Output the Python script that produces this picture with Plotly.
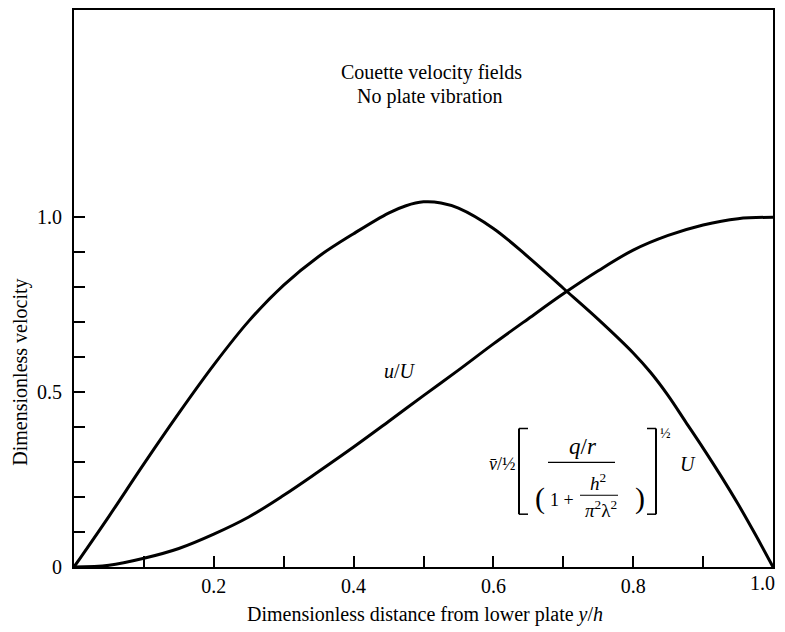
import plotly.graph_objects as go

# ---- data ----
x_v = [0, 0.05, 0.10, 0.15, 0.20, 0.25, 0.30, 0.35, 0.40, 0.45, 0.475, 0.50, 0.525,
       0.55, 0.60, 0.65, 0.70, 0.75, 0.80, 0.825, 0.85, 0.875, 0.90, 0.925, 0.95, 0.975, 1.0]
v_bar = [0, 0.145, 0.295, 0.44, 0.578, 0.703, 0.806, 0.888, 0.953, 1.012, 1.033, 1.044, 1.041,
         1.026, 0.968, 0.886, 0.797, 0.708, 0.612, 0.556, 0.49, 0.415, 0.34, 0.262, 0.18, 0.092, 0]

x_u = [0, 0.05, 0.10, 0.15, 0.20, 0.25, 0.30, 0.35, 0.40, 0.45, 0.50,
       0.55, 0.60, 0.65, 0.70, 0.75, 0.80, 0.85, 0.90, 0.95, 1.0]
u_U = [0, 0.005, 0.025, 0.053, 0.094, 0.143, 0.205, 0.273, 0.343, 0.416, 0.49,
       0.563, 0.638, 0.71, 0.781, 0.847, 0.906, 0.948, 0.978, 0.996, 1.0]

x_tickvals = [0.1, 0.2, 0.3, 0.4, 0.5, 0.6, 0.7, 0.8, 0.9, 1.0]
x_ticktext = ["", "0.2", "", "0.4", "", "0.6", "", "0.8", "", ""]
x_last_label = "1.0"   # drawn as an annotation so it is not clipped at the page edge
y_tickvals = [0, 0.1, 0.2, 0.3, 0.4, 0.5, 0.6, 0.7, 0.8, 0.9, 1.0]
y_ticktext = ["0", "", "", "", "", "0.5", "", "", "", "", "1.0"]

FONT = "Liberation Serif, Times New Roman, Times, serif"

# The page body has an 8px default margin, so the figure is drawn 8px smaller
# and all reference pixel positions are shifted by OFF.
OFF = 8
W, H = 785 - OFF, 632 - OFF
L, R, T, B = 66, 12, 0, 65
PW = W - L - R
PH = H - T - B
Y_TOP = PH / 351.0


def px(xp):
    return (xp - OFF - L) / PW


def py(yp):
    return (H - B - (yp - OFF)) / PH


fig = go.Figure()
fig.add_trace(go.Scatter(x=x_v, y=v_bar, mode="lines",
                         line=dict(color="black", width=3, shape="spline", smoothing=1.0),
                         hoverinfo="skip", showlegend=False, cliponaxis=False))
fig.add_trace(go.Scatter(x=x_u, y=u_U, mode="lines",
                         line=dict(color="black", width=3, shape="spline", smoothing=1.0),
                         hoverinfo="skip", showlegend=False, cliponaxis=False))

ann = []


def add_text(text, xp, yp, size=20, **kw):
    d = dict(text=text, x=px(xp), y=py(yp), xref="paper", yref="paper",
             showarrow=False, font=dict(family=FONT, size=size, color="black"),
             xanchor="center", yanchor="middle")
    d.update(kw)
    ann.append(d)


add_text("Couette velocity fields", 431, 71, size=20)
add_text("No plate vibration", 430, 95, size=20)
add_text("<i>u</i>/<i>U</i>", 400, 370, size=20)
add_text("Dimensionless distance from lower plate <i>y</i>/<i>h</i>", 425, 615, size=20)
add_text("Dimensionless velocity", 21, 372, size=20, textangle=-90)
add_text(x_last_label, 777, 583, size=20, xanchor="right")

# formula pieces
add_text("<i>v\u0304</i>/\u00bd", 502, 464, size=18)
add_text("<i>q</i>/<i>r</i>", 583, 446, size=23)
add_text("(", 540, 498, size=30)
add_text("1 +", 562, 500, size=18)
add_text("<i>h</i><sup>2</sup>", 598, 482, size=19)
add_text("<i>\u03c0</i><sup>2</sup>\u03bb<sup>2</sup>", 601, 509, size=19)
add_text(")", 640, 498, size=30)
add_text("\u00bd", 665, 433, size=14)
add_text("<i>U</i>", 688, 464, size=20)

shapes = []


def line(x0, y0, x1, y1, w=1.5):
    shapes.append(dict(type="line", xref="paper", yref="paper",
                       x0=px(x0), y0=py(y0), x1=px(x1), y1=py(y1),
                       line=dict(color="black", width=w)))


# brackets
line(528, 428, 519, 428)
line(519, 428, 519, 514, w=2)
line(519, 514, 528, 514)
line(647, 428, 656, 428)
line(656, 428, 656, 514, w=2)
line(656, 514, 647, 514)
# fraction bars
line(548, 462, 615, 462, w=1.2)
line(580, 495, 618, 495, w=1.0)

fig.update_layout(
    width=W, height=H,
    margin=dict(l=L, r=R, t=T, b=B, pad=0),
    paper_bgcolor="white", plot_bgcolor="white",
    font=dict(family=FONT, size=20, color="black"),
    annotations=ann, shapes=shapes,
    showlegend=False,
)
fig.update_xaxes(range=[0, 1.0], tickvals=x_tickvals, ticktext=x_ticktext,
                 ticks="inside", ticklen=11, tickwidth=1.5, tickcolor="black",
                 showline=True, linewidth=2, linecolor="black", mirror=True,
                 showgrid=False, zeroline=False, ticklabelstandoff=0,
                 ticklabeloverflow="allow",
                 tickfont=dict(family=FONT, size=20))
fig.update_yaxes(range=[0, Y_TOP], tickvals=y_tickvals, ticktext=y_ticktext,
                 ticks="inside", ticklen=11, tickwidth=1.5, tickcolor="black",
                 showline=True, linewidth=2, linecolor="black", mirror=True,
                 showgrid=False, zeroline=False, ticklabelstandoff=6,
                 ticklabeloverflow="allow",
                 tickfont=dict(family=FONT, size=20))

fig.write_html("out.html")
